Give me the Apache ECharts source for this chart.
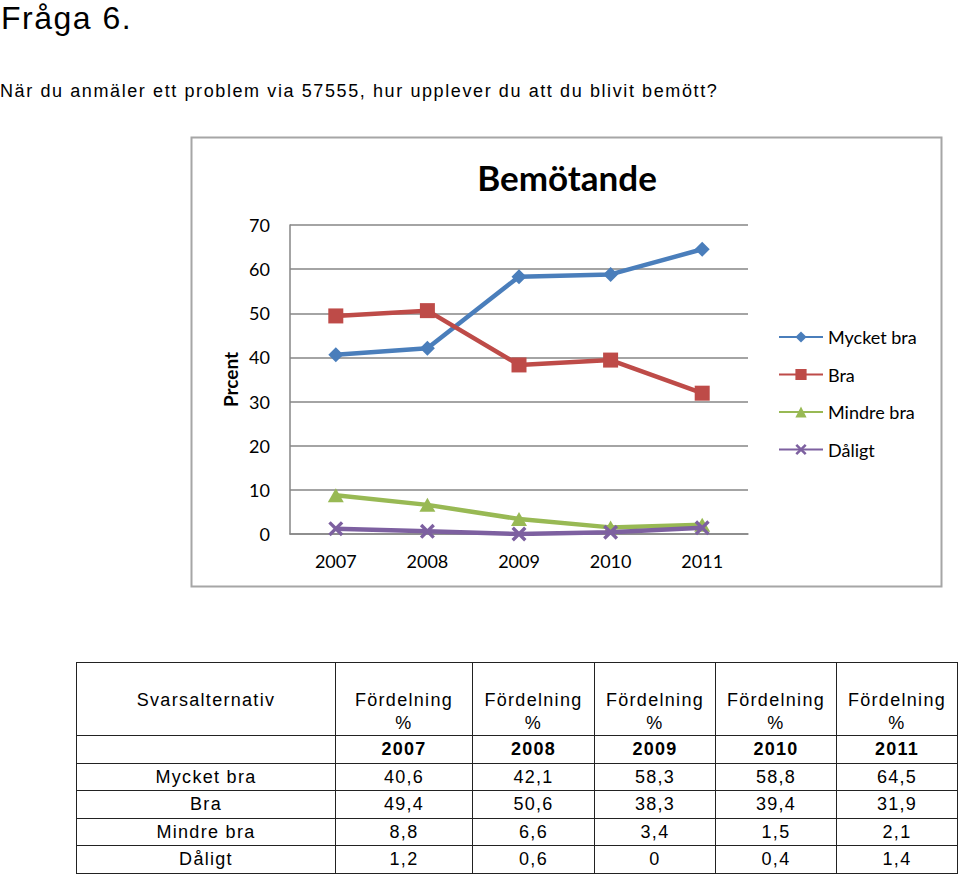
<!DOCTYPE html>
<html>
<head>
<meta charset="utf-8">
<script src="https://cdn.jsdelivr.net/npm/echarts@6/dist/echarts.min.js"></script>
<style>
  html, body { margin: 0; padding: 0; background: #fff; width: 960px; height: 876px; overflow: hidden; }
  #chart { position: absolute; left: 0; top: 0; width: 960px; height: 876px; }
  .txt { position: absolute; font-family: "Liberation Sans", Arial, sans-serif; color: #000; white-space: nowrap; }
  #h1 { left: 1px; top: 2px; font-size: 32px; line-height: 32px; letter-spacing: 1.5px; }
  #q { left: 0; top: 82px; font-size: 18px; line-height: 18px; letter-spacing: 1.6px; }
  #tbl { position: absolute; left: 76px; top: 662px; border-collapse: collapse; font-family: "Liberation Sans", Arial, sans-serif; font-size: 18px; letter-spacing: 1.3px; color: #000; table-layout: fixed; }
  #tbl td { border: 1.5px solid #222; text-align: center; padding: 0; height: 26.5px; line-height: 20px; }
  #tbl tr.hdr td { height: 73px; vertical-align: top; padding-top: 26px; line-height: 23px; box-sizing: border-box; }
  #tbl tr.yr td { font-weight: bold; height: 26.5px; }
</style>
</head>
<body>
<div id="chart"></div>
<div class="txt" id="h1">Fråga 6.</div>
<div class="txt" id="q">När du anmäler ett problem via 57555, hur upplever du att du blivit bemött?</div>
<table id="tbl"></table>
<script>
// ---- data ----
var years = ['2007', '2008', '2009', '2010', '2011'];
var seriesNames = ['Mycket bra', 'Bra', 'Mindre bra', 'Dåligt'];
var mycketBra = [40.6, 42.1, 58.3, 58.8, 64.5];
var bra = [49.4, 50.6, 38.3, 39.4, 31.9];
var mindreBra = [8.8, 6.6, 3.4, 1.5, 2.1];
var daligt = [1.2, 0.6, 0, 0.4, 1.4];
var tableValues = [
  ['40,6', '42,1', '58,3', '58,8', '64,5'],
  ['49,4', '50,6', '38,3', '39,4', '31,9'],
  ['8,8', '6,6', '3,4', '1,5', '2,1'],
  ['1,2', '0,6', '0', '0,4', '1,4']
];
var chartTitle = 'Bemötande';
var yAxisName = 'Prcent';
var tableHeader = 'Svarsalternativ';
var colHeader = 'Fördelning<br>%';

// ---- table ----
var colWidths = [259, 137, 122, 121, 121, 121];
var tbl = document.getElementById('tbl');
var html = '<colgroup>' + colWidths.map(function (w) { return '<col style="width:' + w + 'px">'; }).join('') + '</colgroup>';
html += '<tr class="hdr"><td>' + tableHeader + '</td>' + years.map(function () { return '<td>' + colHeader + '</td>'; }).join('') + '</tr>';
html += '<tr class="yr"><td></td>' + years.map(function (y) { return '<td>' + y + '</td>'; }).join('') + '</tr>';
seriesNames.forEach(function (n, i) {
  html += '<tr><td>' + n + '</td>' + tableValues[i].map(function (v) { return '<td>' + v + '</td>'; }).join('') + '</tr>';
});
tbl.innerHTML = html;

// ---- chart ----
var chart = echarts.init(document.getElementById('chart'), null, { renderer: 'svg' });
var font = 'Lato, "Open Sans", sans-serif';
var colors = ['#4a7ebb', '#be4b48', '#98b954', '#7d60a0'];
var crossPath = 'path://M0,1.6 L1.6,0 L10,8.4 L8.4,10 Z M8.4,0 L10,1.6 L1.6,10 L0,8.4 Z';
var symbols = ['diamond', 'rect', 'triangle', crossPath];
var symbolSizes = [[15, 15], [15, 15], [16, 14], [15, 15]];
var dataSets = [mycketBra, bra, mindreBra, daligt];

chart.setOption({
  animation: false,
  color: colors,
  title: {
    text: chartTitle,
    left: 562, top: 154, textAlign: 'center',
    textStyle: { fontFamily: font, fontWeight: 'bold', fontSize: 35, color: '#000' }
  },
  legend: {
    orient: 'vertical',
    left: 778, top: 328,
    padding: 0,
    itemWidth: 44, itemHeight: 14, itemGap: 19.5,
    data: seriesNames,
    textStyle: { fontFamily: font, fontSize: 18, color: '#000' }
  },
  grid: { left: 290, top: 225, width: 458, height: 309 },
  xAxis: {
    type: 'category',
    data: years,
    boundaryGap: true,
    axisLine: { lineStyle: { color: '#868686', width: 1.5 } },
    axisTick: { show: false },
    axisLabel: { margin: 18, fontFamily: font, fontSize: 18, color: '#000' }
  },
  yAxis: {
    type: 'value',
    min: 0, max: 70, interval: 10,
    name: yAxisName,
    nameLocation: 'middle',
    nameGap: 50,
    nameRotate: 90,
    nameTextStyle: { fontFamily: font, fontWeight: 'bold', fontSize: 19, color: '#000' },
    axisLine: { show: true, lineStyle: { color: '#868686', width: 1.5 } },
    axisTick: { show: false },
    splitLine: { lineStyle: { color: '#868686', width: 1.5 } },
    axisLabel: { margin: 20, fontFamily: font, fontSize: 18, color: '#000' }
  },
  graphic: [{
    type: 'rect',
    shape: { x: 191.5, y: 137.5, width: 750, height: 449 },
    style: { fill: 'none', stroke: '#a6a6a6', lineWidth: 2 },
    silent: true, z: -10
  }],
  series: seriesNames.map(function (n, i) {
    return {
      name: n,
      type: 'line',
      data: dataSets[i],
      symbol: symbols[i],
      symbolSize: symbolSizes[i],
      showAllSymbol: true,
      lineStyle: { width: 4.5, color: colors[i] },
      itemStyle: { color: colors[i], borderWidth: 0 },
      z: 2 + i
    };
  })
});
</script>
</body>
</html>
